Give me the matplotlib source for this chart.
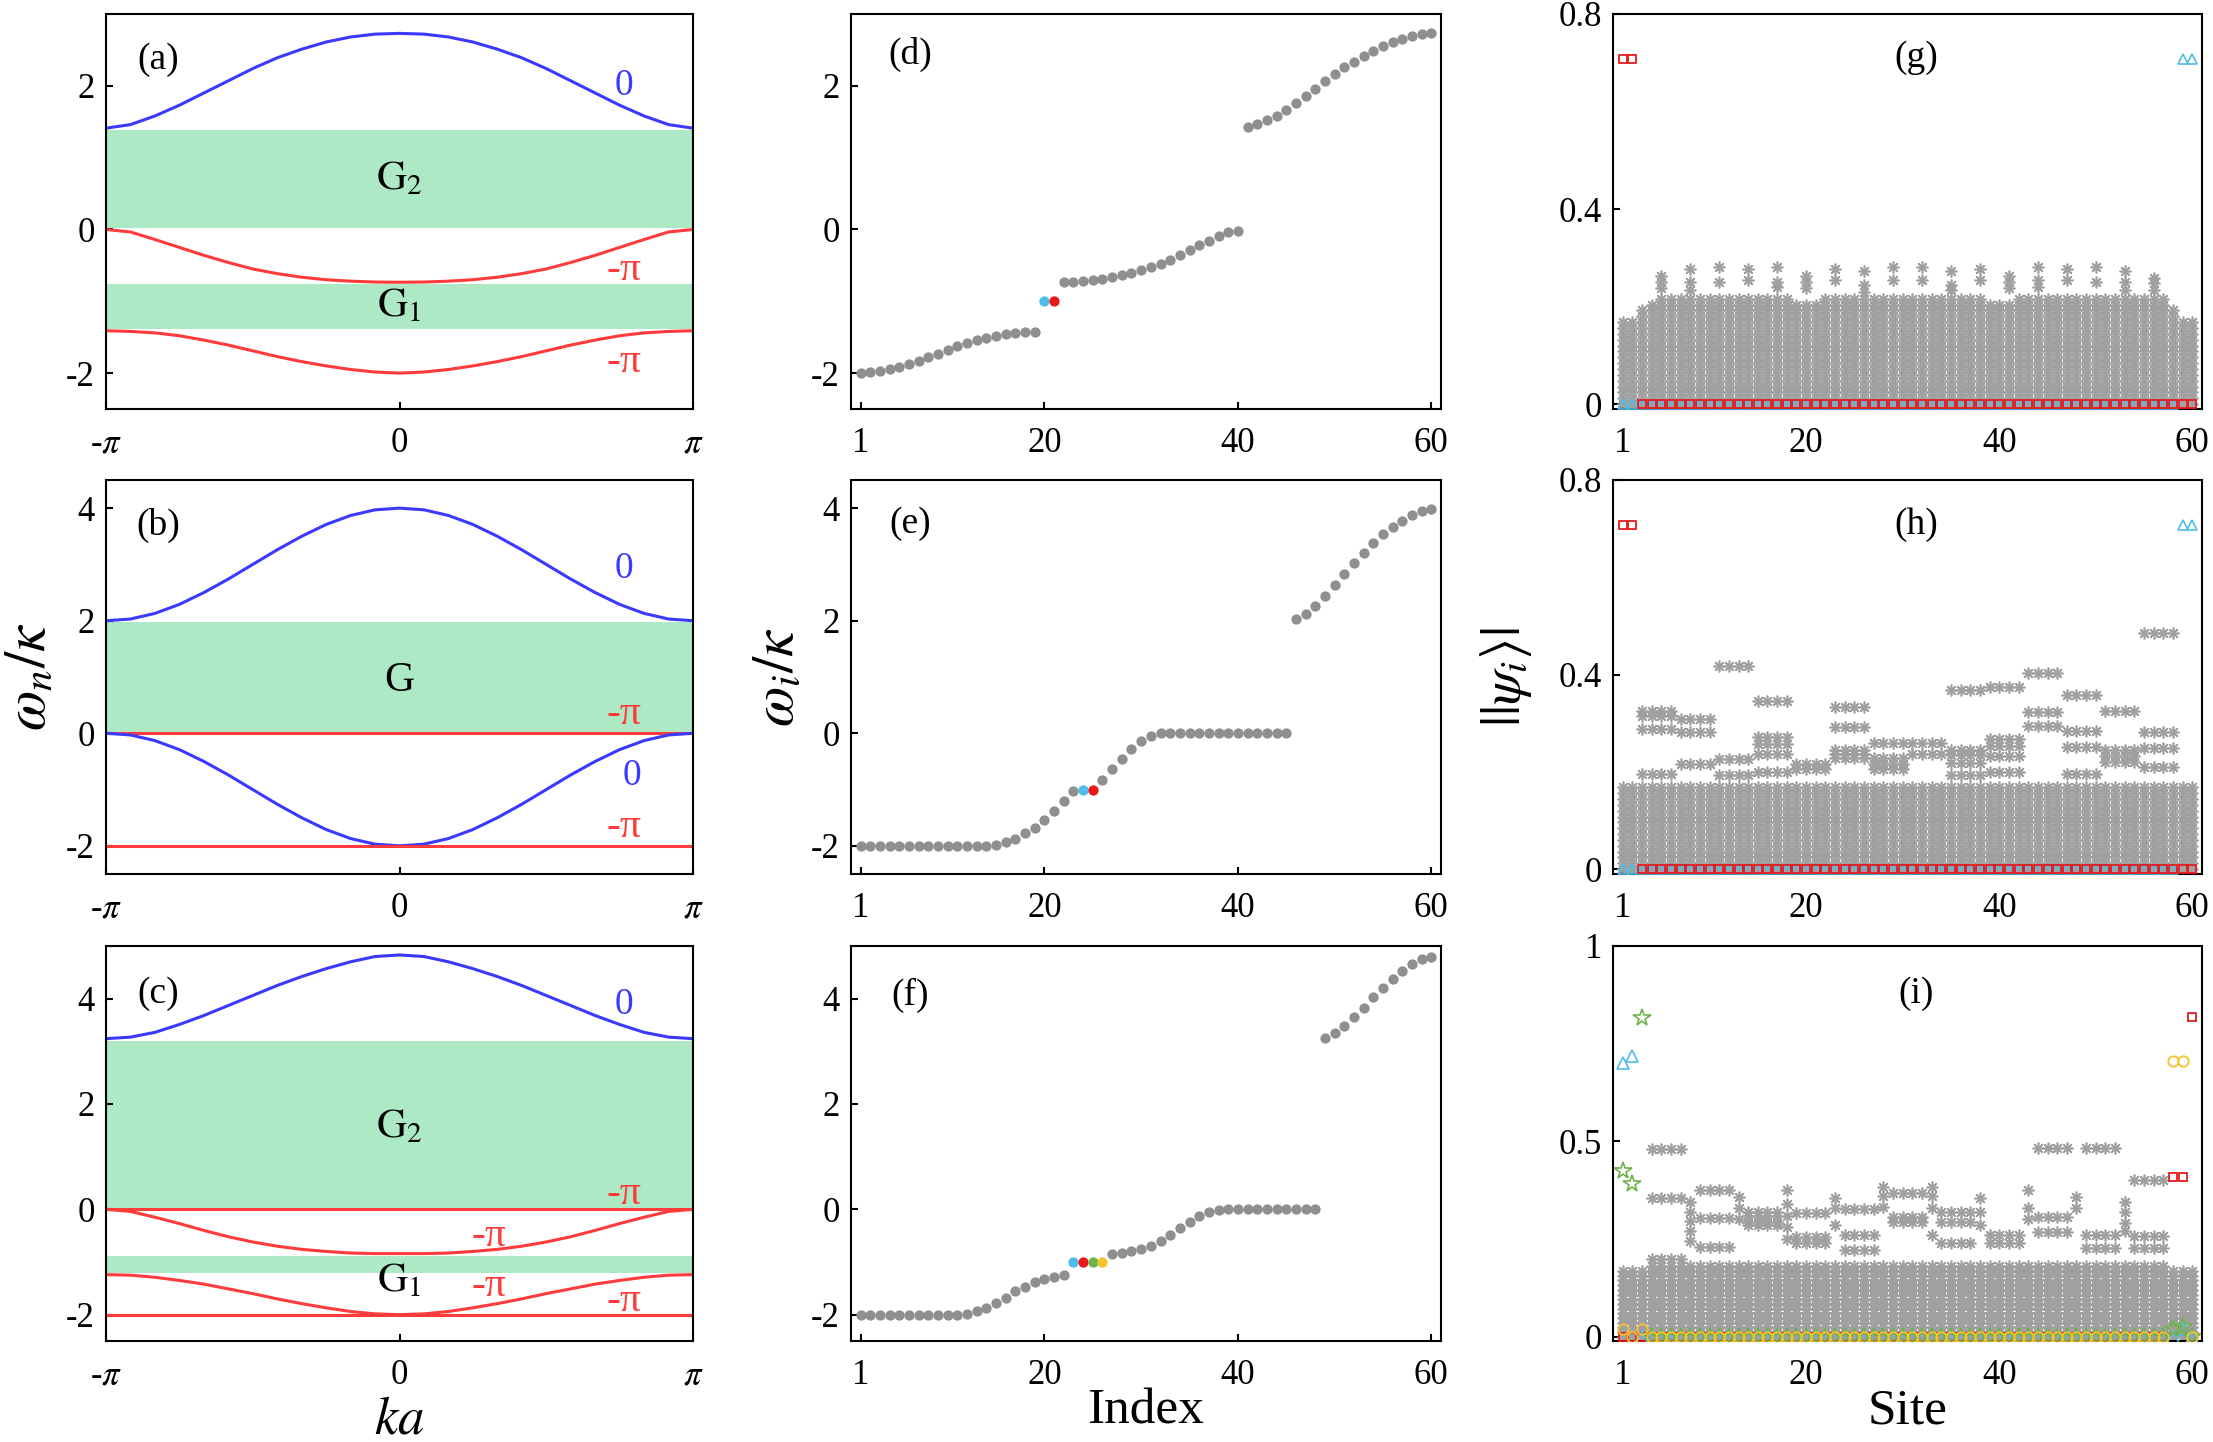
import numpy as np
import matplotlib
matplotlib.use("Agg")
import matplotlib.pyplot as plt

plt.rcParams['font.family'] = ['Liberation Serif', 'DejaVu Serif']
plt.rcParams['mathtext.fontset'] = 'stix'
plt.rcParams['axes.unicode_minus'] = False

# ---------------- band structures (a)-(c), read at ka = -pi ... pi, step pi/12
ka = np.linspace(-np.pi, np.pi, 25)

a_top = [1.41, 1.46, 1.58, 1.73, 1.90, 2.07, 2.24, 2.39, 2.51, 2.61, 2.68, 2.72, 2.73,
         2.72, 2.68, 2.61, 2.51, 2.39, 2.24, 2.07, 1.90, 1.73, 1.58, 1.46, 1.41]
a_mid = [0.0, -0.035, -0.14, -0.25, -0.36, -0.46, -0.55, -0.615, -0.665, -0.70, -0.72, -0.732, -0.735,
         -0.732, -0.72, -0.70, -0.665, -0.615, -0.55, -0.46, -0.36, -0.25, -0.14, -0.035, 0.0]
a_low = [-1.41, -1.42, -1.44, -1.48, -1.54, -1.61, -1.69, -1.77, -1.84, -1.90, -1.95, -1.985, -2.0,
         -1.985, -1.95, -1.90, -1.84, -1.77, -1.69, -1.61, -1.54, -1.48, -1.44, -1.42, -1.41]
a_gaps = [(0.02, 1.38), (-1.39, -0.76)]

b_top = [2.0, 2.03, 2.13, 2.29, 2.5, 2.74, 3.0, 3.26, 3.5, 3.71, 3.87, 3.97, 4.0,
         3.97, 3.87, 3.71, 3.5, 3.26, 3.0, 2.74, 2.5, 2.29, 2.13, 2.03, 2.0]
b_flat0 = [0.0] * 25
b_low = [0.0, -0.03, -0.13, -0.29, -0.5, -0.74, -1.0, -1.26, -1.5, -1.71, -1.87, -1.97, -2.0,
         -1.97, -1.87, -1.71, -1.5, -1.26, -1.0, -0.74, -0.5, -0.29, -0.13, -0.03, 0.0]
b_flat2 = [-2.0] * 25
b_gaps = [(0.02, 1.98)]

c_top = [3.24, 3.27, 3.36, 3.51, 3.68, 3.87, 4.06, 4.25, 4.42, 4.57, 4.70, 4.80, 4.83,
         4.80, 4.70, 4.57, 4.42, 4.25, 4.06, 3.87, 3.68, 3.51, 3.36, 3.27, 3.24]
c_flat0 = [0.0] * 25
c_mid = [0.0, -0.04, -0.15, -0.27, -0.40, -0.52, -0.62, -0.70, -0.76, -0.80, -0.83, -0.84, -0.84,
         -0.84, -0.83, -0.80, -0.76, -0.70, -0.62, -0.52, -0.40, -0.27, -0.15, -0.04, 0.0]
c_low = [-1.24, -1.25, -1.29, -1.35, -1.42, -1.51, -1.60, -1.70, -1.79, -1.87, -1.94, -1.985, -2.0,
         -1.985, -1.94, -1.87, -1.79, -1.70, -1.60, -1.51, -1.42, -1.35, -1.29, -1.25, -1.24]
c_flat2 = [-2.0] * 25
c_gaps = [(0.02, 3.19), (-1.21, -0.88)]

# ---------------- eigenvalues (d)-(f), index 1..60
index = np.arange(1, 61)
d_vals = ([-2.0, -1.986, -1.967, -1.94, -1.91, -1.87, -1.827, -1.78, -1.73, -1.678,
           -1.627, -1.585, -1.543, -1.51, -1.483, -1.46, -1.445, -1.432, -1.427]
          + [-1.0, -1.0]
          + [-0.727, -0.727, -0.718, -0.704, -0.685, -0.662, -0.634, -0.601, -0.569, -0.527,
             -0.476, -0.42, -0.354, -0.284, -0.219, -0.154, -0.093, -0.042, -0.019]
          + [1.427, 1.464, 1.52, 1.585, 1.669, 1.762, 1.855, 1.958, 2.061, 2.163,
             2.256, 2.336, 2.415, 2.49, 2.555, 2.611, 2.657, 2.695, 2.723, 2.737])
e_vals = ([-2.0] * 14 + [-1.99]
          + [-1.94, -1.876, -1.78, -1.68, -1.54, -1.38, -1.21, -1.03]
          + [-1.0, -1.0]
          + [-0.834, -0.64, -0.45, -0.278, -0.136, -0.04]
          + [0.0] * 14
          + [2.03, 2.12, 2.27, 2.44, 2.64, 2.83, 3.02, 3.2, 3.38, 3.54, 3.67, 3.78, 3.88, 3.95, 3.98])
f_vals = ([-2.0] * 11
          + [-1.99, -1.93, -1.87, -1.78, -1.675, -1.56, -1.47, -1.38, -1.32, -1.28, -1.25]
          + [-1.0, -1.0, -1.0, -1.0]
          + [-0.84, -0.82, -0.80, -0.755, -0.69, -0.61, -0.495, -0.36, -0.235, -0.12, -0.044]
          + [-0.01] + [0.0] * 10
          + [3.255, 3.34, 3.48, 3.655, 3.83, 4.03, 4.21, 4.38, 4.53, 4.65, 4.75, 4.80])
d_edge = [20, 21]
e_edge = [24, 25]
f_edge = [23, 24, 25, 26]

# ---------------- mode profiles (g)-(i), site 1..60
sites = np.arange(1, 61)
bulk_levels = [0.0, 0.012, 0.024, 0.036, 0.048, 0.06, 0.072, 0.084, 0.096, 0.108,
               0.12, 0.132, 0.144, 0.156, 0.168, 0.18, 0.192, 0.204, 0.216]

g_caps = ([0.175, 0.175, 0.2, 0.21] + [0.22] * 14 + [0.21] * 3 + [0.22] * 17
          + [0.21] * 3 + [0.22] * 16 + [0.2, 0.175, 0.175])
g_stack_sites = [5, 8, 11, 14, 17, 20, 23, 26, 29, 32, 35, 38, 41, 44, 47, 50, 53, 56]
g_stack_vals = [[0.262, 0.25, 0.238], [0.277, 0.25, 0.235], [0.281, 0.25], [0.277, 0.254],
                [0.281, 0.25, 0.24], [0.262, 0.25, 0.238], [0.277, 0.254], [0.274, 0.245, 0.23],
                [0.281, 0.254], [0.281, 0.254], [0.274, 0.245, 0.235], [0.277, 0.254],
                [0.262, 0.25, 0.238], [0.281, 0.254, 0.24], [0.277, 0.254], [0.281, 0.25],
                [0.274, 0.25, 0.235], [0.259, 0.248, 0.235]]
g_red = [0.707, 0.707] + [0.0] * 58
g_cyan = [0.0] * 58 + [0.707, 0.707]

h_caps = [0.175] * 60
h_row_starts = [3, 7, 11, 15, 19, 23, 27, 31, 35, 39, 43, 47, 51, 55]
h_row_vals = [[0.326, 0.314, 0.289, 0.196], [0.309, 0.282, 0.217], [0.418, 0.227, 0.193],
              [0.345, 0.271, 0.258, 0.237, 0.2], [0.217, 0.206],
              [0.333, 0.293, 0.244, 0.237, 0.229], [0.259, 0.229, 0.217, 0.206],
              [0.259, 0.236], [0.369, 0.245, 0.234, 0.218, 0.193],
              [0.374, 0.268, 0.254, 0.232, 0.2], [0.403, 0.323, 0.295],
              [0.359, 0.285, 0.251, 0.196], [0.325, 0.244, 0.232, 0.22],
              [0.485, 0.282, 0.25, 0.209]]
h_red = [0.707, 0.707] + [0.0] * 58
h_cyan = [0.0] * 58 + [0.707, 0.707]

i_caps = [0.17] * 3 + [0.19] * 54 + [0.17] * 3
i_row_starts = [4, 9, 14, 19, 24, 29, 34, 39, 44, 49, 54]
i_row_vals = [[0.48, 0.354, 0.2], [0.375, 0.303, 0.23], [0.32, 0.31, 0.294, 0.286],
              [0.317, 0.256, 0.239], [0.326, 0.26, 0.222], [0.367, 0.307, 0.294],
              [0.32, 0.294, 0.239], [0.26, 0.239], [0.482, 0.307, 0.269],
              [0.482, 0.26, 0.226], [0.40, 0.258, 0.226]]
i_stack_sites = [8, 13, 18, 23, 28, 33, 38, 43, 48, 53]
i_stack_vals = [[0.345, 0.32, 0.295, 0.27, 0.245], [0.358, 0.33, 0.3],
                [0.375, 0.34, 0.31, 0.28, 0.25], [0.354, 0.33, 0.286], [0.384, 0.36, 0.333],
                [0.384, 0.36, 0.33, 0.26], [0.354, 0.32, 0.286], [0.375, 0.33, 0.3],
                [0.358, 0.33], [0.345, 0.32, 0.29, 0.27]]
i_red = [0.0] * 57 + [0.408, 0.408, 0.817]
i_cyan = [0.70, 0.718] + [0.0] * 56 + [0.02, 0.0]
i_green = [0.425, 0.391, 0.815] + [0.0] * 54 + [0.02, 0.025, 0.0]
i_yellow = [0.02, 0.0, 0.02] + [0.0] * 54 + [0.706, 0.706, 0.0]

# ---------------- colours
BLUE = '#3a3aff'
RED = '#ff3b3b'
FILL = '#aee9c6'
GRAY_DOT = '#8f8f8f'
GRAY_AST = '#a0a0a0'
C_CYAN = '#4dbde9'
C_RED = '#e8191c'
C_GREEN = '#6db34b'
C_YEL = '#f7c22a'
edge_colors = [C_CYAN, C_RED, C_GREEN, C_YEL]

W, H = 2213, 1442
fig = plt.figure(figsize=(W / 100, H / 100), dpi=100)
cols = [(106, 693), (851, 1441), (1613, 2202)]
rows = [(14, 409), (480, 874), (946, 1341)]


def make_ax(r, c):
    l, rr = cols[c]
    t, b = rows[r]
    ax = fig.add_axes([l / W, 1 - b / H, (rr - l) / W, (b - t) / H])
    for s in ax.spines.values():
        s.set_linewidth(1.5)
    ax.tick_params(direction='in', length=5, width=1.5, labelsize=25, top=False, right=False)
    ax.tick_params(axis='x', pad=13)
    ax.tick_params(axis='y', pad=8)
    return ax


def set_ylabel(ax, text, x, size):
    ax.set_ylabel(text, fontsize=size)
    ax.yaxis.label.set_va('center')
    ax.yaxis.set_label_coords(x, 0.5)


def set_xlabel(ax, text, size, y=-0.177):
    ax.set_xlabel(text, fontsize=size)
    ax.xaxis.label.set_va('center')
    ax.xaxis.set_label_coords(0.5, y)


def band_panel(ax, curves, gaps, ylim, yticks, label, label_y):
    for lo, hi in gaps:
        ax.axhspan(lo, hi, color=FILL, lw=0, zorder=0)
    for vals, col in curves:
        ax.plot(ka, vals, color=col, lw=2.2, zorder=2)
    ax.set_xlim(-np.pi, np.pi)
    ax.set_ylim(*ylim)
    ax.set_xticks([-np.pi, 0, np.pi], ['-$\\pi$', '0', '$\\pi$'])
    ax.set_yticks(yticks, [str(v) for v in yticks])
    ax.text(-2.58, label_y, label, fontsize=27, ha='center', va='center')


def band_tag(ax, x, y, txt, col):
    size = 30 if 'π' in txt else 27
    ax.text(x, y, txt, color=col, fontsize=size, ha='center', va='center')


def eig_panel(ax, vals, edge, ylim, yticks, label, label_y):
    v = np.array(vals)
    mask = np.isin(index, edge)
    ax.scatter(index[~mask], v[~mask], s=55, color=GRAY_DOT, lw=0, zorder=2)
    for j, n in enumerate(edge):
        ax.scatter([n], [v[n - 1]], s=55, color=edge_colors[j], lw=0, zorder=3)
    ax.set_xlim(0, 61)
    ax.set_ylim(*ylim)
    ax.set_xticks([1, 20, 40, 60])
    ax.set_yticks(yticks, [str(t) for t in yticks])
    ax.text(6.1, label_y, label, fontsize=27, ha='center', va='center')


def gray_modes(ax, caps, rows_start=None, rows_vals=None, st_sites=None, st_vals=None):
    xs, ys = [], []
    for s, cap in zip(sites, caps):
        for lv in bulk_levels:
            if lv <= cap:
                xs.append(s)
                ys.append(lv)
    if rows_start is not None:
        for st, vals in zip(rows_start, rows_vals):
            for v in vals:
                for s in range(st, st + 4):
                    xs.append(s)
                    ys.append(v)
    if st_sites is not None:
        for s, vals in zip(st_sites, st_vals):
            for v in vals:
                xs.append(s)
                ys.append(v)
    ax.plot(xs, ys, ls='none', marker=(8, 2, 0), ms=8.5, mec=GRAY_AST, mew=1.2, zorder=2)


def site_axes(ax, ylim, yticks, yticklabels, label, label_y):
    ax.set_xlim(0, 61)
    ax.set_ylim(*ylim)
    ax.set_xticks([1, 20, 40, 60])
    ax.set_yticks(yticks, yticklabels)
    ax.text(31.4, label_y, label, fontsize=27, ha='center', va='center')


# ---------------- (a)
ax = make_ax(0, 0)
band_panel(ax, [(a_top, BLUE), (a_mid, RED), (a_low, RED)], a_gaps, (-2.5, 3.0), [-2, 0, 2], '(a)', 2.37)
ax.text(0, 0.7, r'$\mathrm{G}_2$', fontsize=30, ha='center', va='center')
ax.text(0, -1.07, r'$\mathrm{G}_1$', fontsize=30, ha='center', va='center')
band_tag(ax, 2.40, 2.0, '0', BLUE)
band_tag(ax, 2.40, -0.56, '-π', RED)
band_tag(ax, 2.40, -1.84, '-π', RED)

# ---------------- (b)
ax = make_ax(1, 0)
band_panel(ax, [(b_top, BLUE), (b_flat0, RED), (b_low, BLUE), (b_flat2, RED)], b_gaps,
           (-2.5, 4.5), [-2, 0, 2, 4], '(b)', 3.69)
ax.text(0, 0.94, 'G', fontsize=30, ha='center', va='center')
band_tag(ax, 2.40, 2.92, '0', BLUE)
band_tag(ax, 2.40, 0.35, '-π', RED)
band_tag(ax, 2.49, -0.75, '0', BLUE)
band_tag(ax, 2.40, -1.66, '-π', RED)
set_ylabel(ax, r'$\omega_n/\kappa$', -0.128, 42)

# ---------------- (c)
ax = make_ax(2, 0)
band_panel(ax, [(c_top, BLUE), (c_flat0, RED), (c_mid, RED), (c_low, RED), (c_flat2, RED)], c_gaps,
           (-2.5, 5.0), [-2, 0, 2, 4], '(c)', 4.1)
ax.text(0, 1.56, r'$\mathrm{G}_2$', fontsize=30, ha='center', va='center')
ax.text(0, -1.36, r'$\mathrm{G}_1$', fontsize=30, ha='center', va='center')
band_tag(ax, 2.40, 3.88, '0', BLUE)
band_tag(ax, 2.40, 0.3, '-π', RED)
band_tag(ax, 0.96, -0.5, '-π', RED)
band_tag(ax, 0.96, -1.45, '-π', RED)
band_tag(ax, 2.40, -1.74, '-π', RED)
set_xlabel(ax, r'$ka$', 38, y=-0.2)

# ---------------- (d)-(f)
ax = make_ax(0, 1)
eig_panel(ax, d_vals, d_edge, (-2.5, 3.0), [-2, 0, 2], '(d)', 2.43)
ax = make_ax(1, 1)
eig_panel(ax, e_vals, e_edge, (-2.5, 4.5), [-2, 0, 2, 4], '(e)', 3.72)
set_ylabel(ax, r'$\omega_i/\kappa$', -0.122, 42)
ax = make_ax(2, 1)
eig_panel(ax, f_vals, f_edge, (-2.5, 5.0), [-2, 0, 2, 4], '(f)', 4.07)
set_xlabel(ax, 'Index', 37)

# ---------------- (g)
ax = make_ax(0, 2)
gray_modes(ax, g_caps, st_sites=g_stack_sites, st_vals=g_stack_vals)
ax.plot(sites, g_cyan, ls='none', marker='^', ms=7.5, mfc='none', mec=C_CYAN, mew=1.2, zorder=3)
ax.plot(sites, g_red, ls='none', marker='s', ms=5.5, mfc='none', mec=C_RED, mew=1.3, zorder=4)
site_axes(ax, (-0.01, 0.8), [0, 0.4, 0.8], ['0', '0.4', '0.8'], '(g)', 0.71)

# ---------------- (h)
ax = make_ax(1, 2)
gray_modes(ax, h_caps, rows_start=h_row_starts, rows_vals=h_row_vals)
ax.plot(sites, h_cyan, ls='none', marker='^', ms=7.5, mfc='none', mec=C_CYAN, mew=1.2, zorder=3)
ax.plot(sites, h_red, ls='none', marker='s', ms=5.5, mfc='none', mec=C_RED, mew=1.3, zorder=4)
site_axes(ax, (-0.01, 0.8), [0, 0.4, 0.8], ['0', '0.4', '0.8'], '(h)', 0.709)
set_ylabel(ax, r'$||\psi_i\rangle|$', -0.182, 40)

# ---------------- (i)
ax = make_ax(2, 2)
gray_modes(ax, i_caps, rows_start=i_row_starts, rows_vals=i_row_vals,
           st_sites=i_stack_sites, st_vals=i_stack_vals)
ax.plot(sites, i_red, ls='none', marker='s', ms=5.5, mfc='none', mec=C_RED, mew=1.3, zorder=3)
ax.plot(sites, i_cyan, ls='none', marker='^', ms=9, mfc='none', mec=C_CYAN, mew=1.2, zorder=4)
ax.plot(sites, i_green, ls='none', marker='*', ms=13, mfc='none', mec=C_GREEN, mew=1.2, zorder=5)
ax.plot(sites, i_yellow, ls='none', marker='o', ms=7.5, mfc='none', mec=C_YEL, mew=1.3, zorder=6)
site_axes(ax, (-0.011, 1.0), [0, 0.5, 1], ['0', '0.5', '1'], '(i)', 0.879)
set_xlabel(ax, 'Site', 37)

fig.savefig('out.png', dpi=100)
